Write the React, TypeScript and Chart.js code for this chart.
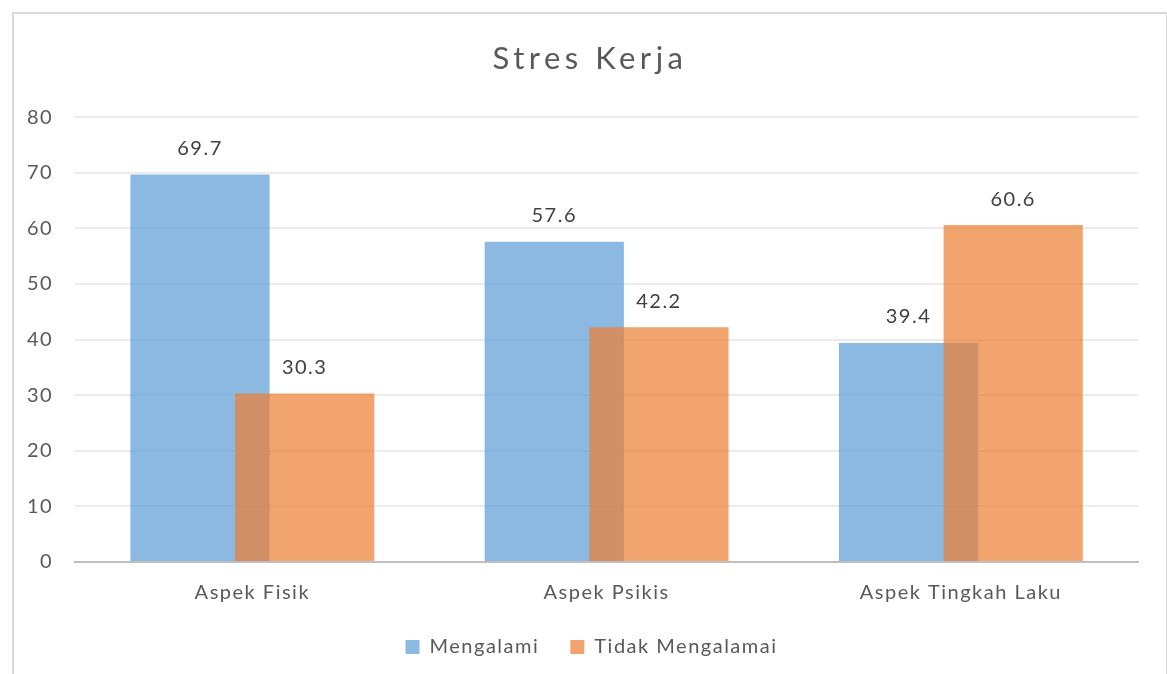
import React, { useEffect, useRef } from 'react';
import { Chart, registerables } from 'chart.js';

Chart.register(...registerables);

const categories = ['Aspek Fisik', 'Aspek Psikis', 'Aspek Tingkah Laku'];
const mengalami = [69.7, 57.6, 39.4];
const tidakMengalami = [30.3, 42.2, 60.6];
const seriesNames = ['Mengalami', 'Tidak Mengalamai'];
const titleText = 'Stres Kerja';
const yMin = 0;
const yMax = 80;
const yStep = 10;

const FONT = 'Lato';
const TEXT = '#595959';
const SPACING = '1.5px';

const setSpacing = (chart: any) => {
  const ctx = chart.ctx as any;
  if (ctx) ctx.letterSpacing = SPACING;
};

const framePlugin = {
  id: 'frame',
  beforeUpdate(chart: any) { setSpacing(chart); },
  beforeLayout(chart: any) { setSpacing(chart); },
  afterLayout(chart: any) {
    const lg = chart.legend;
    if (lg) {
      lg.left += 20;
      lg.right += 20;
    }
  },
  beforeDraw(chart: any) {
    const ctx = chart.ctx;
    setSpacing(chart);
    ctx.save();
    ctx.fillStyle = '#ffffff';
    ctx.fillRect(0, 0, chart.width, chart.height);
    ctx.strokeStyle = '#D9D9D9';
    ctx.lineWidth = 2;
    ctx.strokeRect(13, 13, chart.width - 13, chart.height + 20);
    ctx.restore();
  },
  afterDraw(chart: any) {
    const ctx = chart.ctx as any;
    const t = chart.titleBlock;
    ctx.save();
    ctx.letterSpacing = '4.5px';
    ctx.fillStyle = TEXT;
    ctx.font = `31px ${FONT}`;
    ctx.textAlign = 'center';
    ctx.textBaseline = 'middle';
    const cx = (13 + chart.width) / 2;
    const cy = t ? t.top + t.height / 2 - (t.options.padding.bottom - t.options.padding.top) / 2 : 60;
    ctx.fillText(titleText, cx, cy);
    ctx.restore();
  },
};

const drawOrderPlugin = {
  id: 'drawOrder',
  beforeDatasetsDraw(chart: any) {
    const ctx = chart.ctx;
    const n = chart.data.datasets.length;
    for (let i = 0; i < n; i++) {
      const meta = chart.getDatasetMeta(i);
      if (!meta.hidden) meta.controller.draw();
    }
    ctx.save();
    ctx.fillStyle = '#404040';
    ctx.font = `20px ${FONT}`;
    ctx.textAlign = 'center';
    ctx.textBaseline = 'middle';
    for (let i = 0; i < n; i++) {
      const meta = chart.getDatasetMeta(i);
      if (meta.hidden) continue;
      const values = chart.data.datasets[i].data as number[];
      meta.data.forEach((el: any, j: number) => {
        ctx.fillText(values[j].toFixed(1), el.x, el.y - 26);
      });
    }
    ctx.restore();
    return false;
  },
};

export default function App() {
  const ref = useRef<HTMLCanvasElement | null>(null);
  useEffect(() => {
    if (!ref.current) return;
    const chart = new Chart(ref.current, {
      type: 'bar',
      data: {
        labels: categories,
        datasets: [
          {
            label: seriesNames[0],
            data: mengalami,
            backgroundColor: 'rgba(91,155,213,0.7)',
            borderWidth: 0,
          },
          {
            label: seriesNames[1],
            data: tidakMengalami,
            backgroundColor: 'rgba(237,125,49,0.7)',
            borderWidth: 0,
          },
        ],
      },
      options: {
        animation: false,
        responsive: false,
        devicePixelRatio: 1,
        layout: { padding: { top: 18, left: 5, right: 29, bottom: 7 } },
        datasets: {
          bar: { categoryPercentage: 0.591, barPercentage: 1.33 },
        },
        plugins: {
          title: {
            display: true,
            text: titleText,
            color: 'rgba(0,0,0,0)',
            font: { family: FONT, size: 31, weight: 'normal' },
            padding: { top: 22, bottom: 40 },
          },
          legend: {
            display: true,
            position: 'bottom',
            labels: {
              boxWidth: 14,
              boxHeight: 14,
              color: TEXT,
              font: { family: FONT, size: 20 },
              padding: 13,
              generateLabels: (chart: any) => {
                const items = Chart.defaults.plugins.legend.labels.generateLabels(chart);
                return items.map((it: any, i: number) =>
                  i < items.length - 1 ? { ...it, text: it.text + '\u2002 ' } : it
                );
              },
            },
          },
          tooltip: { enabled: false },
        },
        scales: {
          x: {
            grid: { display: false, drawTicks: false },
            border: { display: true, color: '#BFBFBF', width: 2 },
            ticks: { color: TEXT, font: { family: FONT, size: 20 }, padding: 19 },
          },
          y: {
            min: yMin,
            max: yMax,
            grid: { color: '#EBEBEB', lineWidth: 2, drawTicks: false },
            border: { display: false },
            ticks: { stepSize: yStep, color: TEXT, font: { family: FONT, size: 20 }, padding: 22 },
          },
        },
      },
      plugins: [framePlugin, drawOrderPlugin],
    });
    return () => chart.destroy();
  }, []);
  return (
    <div style={{ position: 'fixed', left: 0, top: 0, width: 1167, height: 674, background: '#fff' }}>
      <canvas ref={ref} width={1167} height={674} style={{ display: 'block', width: 1167, height: 674 }} />
    </div>
  );
}
